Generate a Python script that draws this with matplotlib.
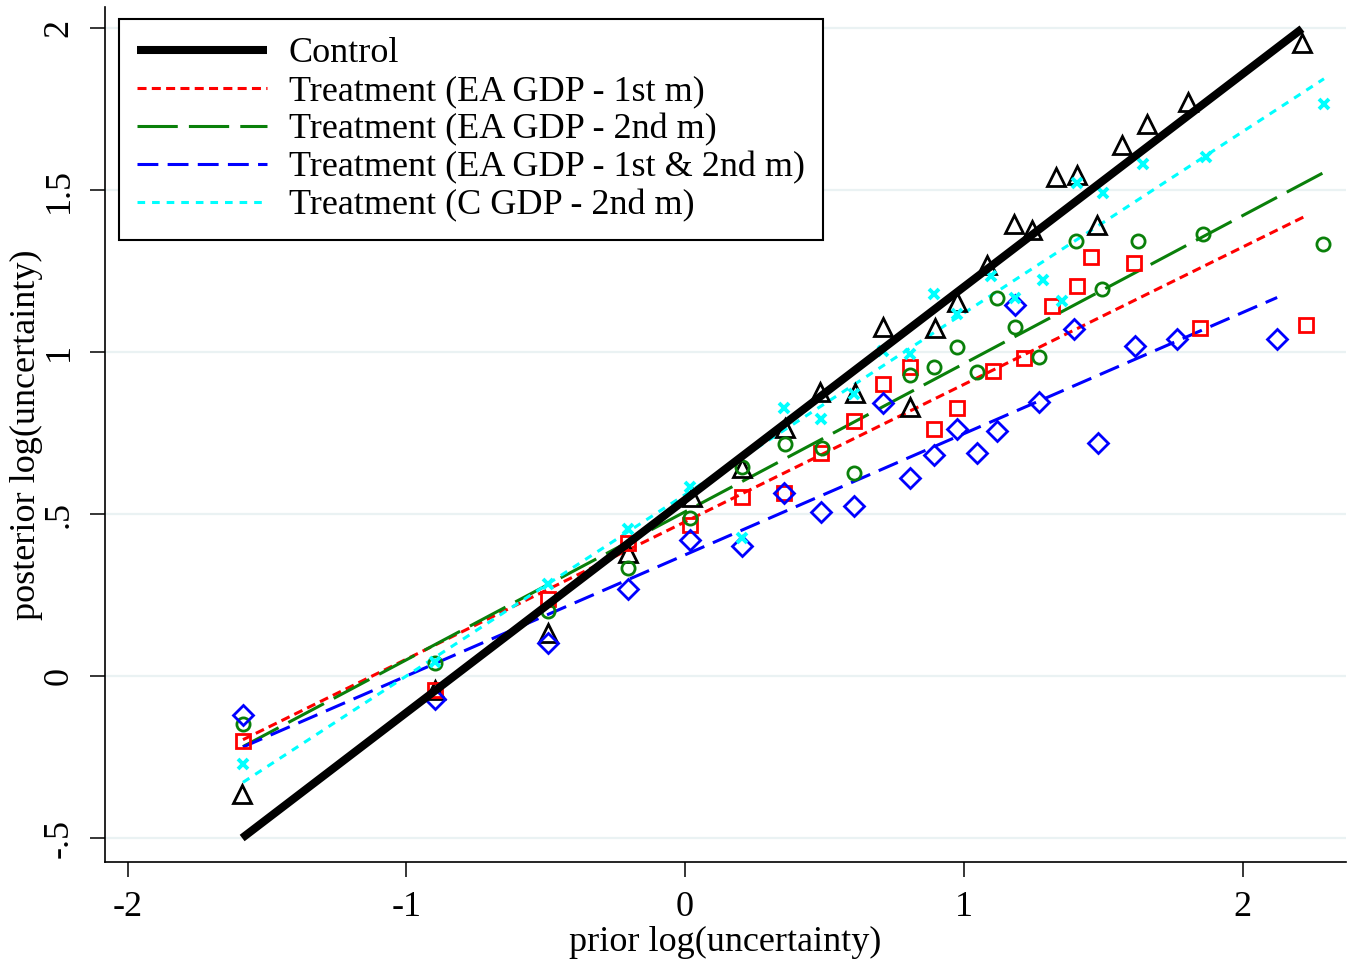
# binscatter: prior vs posterior log(uncertainty), control and treatments
import numpy as np
import matplotlib
matplotlib.use("Agg")
import matplotlib.pyplot as plt

plt.rcParams['font.family'] = ['Liberation Serif', 'DejaVu Serif']
plt.rcParams['lines.scale_dashes'] = False

# ---------------- datos ----------------
etiquetas = ["Control",
             "Treatment (EA GDP - 1st m)",
             "Treatment (EA GDP - 2nd m)",
             "Treatment (EA GDP - 1st & 2nd m)",
             "Treatment (C GDP - 2nd m)"]

x_control = [-1.589, -0.897, -0.491, -0.204, 0.025, 0.204, 0.359, 0.484, 0.610, 0.710, 0.807,
             0.897, 0.976, 1.083, 1.180, 1.245, 1.331, 1.406, 1.478, 1.568, 1.657, 1.804, 2.213]
y_control = [-0.364, -0.043, 0.133, 0.380, 0.552, 0.642, 0.765, 0.877, 0.873, 1.077, 0.830,
             1.074, 1.154, 1.269, 1.395, 1.377, 1.540, 1.546, 1.392, 1.639, 1.704, 1.772, 1.954]

x_ea1 = [-1.586, -0.897, -0.491, -0.204, 0.018, 0.204, 0.355, 0.488, 0.606, 0.710, 0.807,
         0.893, 0.976, 1.105, 1.216, 1.317, 1.406, 1.457, 1.611, 1.848, 2.228]
y_ea1 = [-0.201, -0.043, 0.238, 0.410, 0.466, 0.552, 0.565, 0.688, 0.787, 0.901, 0.954,
         0.762, 0.827, 0.941, 0.981, 1.142, 1.204, 1.293, 1.275, 1.074, 1.083]

x_ea2 = [-1.586, -0.897, -0.491, -0.204, 0.018, 0.204, 0.359, 0.491, 0.606, 0.807, 0.893,
         0.976, 1.048, 1.119, 1.184, 1.270, 1.403, 1.496, 1.625, 1.858, 2.289]
y_ea2 = [-0.148, 0.040, 0.201, 0.333, 0.488, 0.645, 0.716, 0.704, 0.627, 0.929, 0.954,
         1.015, 0.938, 1.167, 1.077, 0.985, 1.343, 1.194, 1.343, 1.364, 1.333]

x_ea12 = [-1.586, -0.897, -0.491, -0.204, 0.018, 0.204, 0.355, 0.488, 0.606, 0.710, 0.807,
          0.893, 0.976, 1.048, 1.119, 1.184, 1.270, 1.396, 1.482, 1.614, 1.765, 2.124]
y_ea12 = [-0.120, -0.071, 0.102, 0.269, 0.420, 0.401, 0.565, 0.506, 0.525, 0.843, 0.611,
          0.682, 0.762, 0.688, 0.756, 1.145, 0.846, 1.071, 0.719, 1.019, 1.040, 1.040]

x_cgdp = [-1.586, -0.897, -0.491, -0.204, 0.018, 0.204, 0.355, 0.488, 0.606, 0.710, 0.807,
          0.893, 0.976, 1.098, 1.184, 1.284, 1.352, 1.406, 1.500, 1.643, 1.869, 2.292]
y_cgdp = [-0.272, 0.043, 0.284, 0.454, 0.583, 0.426, 0.827, 0.793, 0.870, 1.003, 0.994,
          1.179, 1.117, 1.235, 1.167, 1.222, 1.157, 1.522, 1.491, 1.580, 1.602, 1.765]

# rectas ajustadas (pendiente, intercepto)
pendientes = [0.657, 0.424, 0.457, 0.374, 0.560]
interceptos = [0.544, 0.476, 0.507, 0.374, 0.560]

y_ticks = [-0.5, 0, 0.5, 1, 1.5, 2]
y_tick_labels = ["-.5", "0", ".5", "1", "1.5", "2"]
x_ticks = [-2, -1, 0, 1, 2]

# ---------------- estilos ----------------
colores = ["black", "#ff0000", "#0a800a", "#0000ff", "#00ffff"]
marcadores = ["^", "s", "o", "D", "x"]
tam_marcador = [12.5, 10, 9.5, 10, 7.5]
ancho_linea = [5.8, 2.2, 2.2, 2.2, 2.2]
guiones = [None, (0, (6.5, 3.8)), (0, (29, 8)), (0, (15, 6.7)), (0, (5.5, 5))]

series_x = [x_control, x_ea1, x_ea2, x_ea12, x_cgdp]
series_y = [y_control, y_ea1, y_ea2, y_ea12, y_cgdp]

tam_fuente = 26

fig = plt.figure(figsize=(13.49, 9.65), dpi=100)
ax = fig.add_axes([105 / 1349, 1 - 862 / 965, 1241 / 1349, 855 / 965])

# puntos
for xs, ys, c, m, ms in zip(series_x, series_y, colores, marcadores, tam_marcador):
    if m == "x":
        ax.plot(xs, ys, linestyle="none", marker=m, markersize=ms, color=c,
                markeredgewidth=2.8, zorder=4)
    else:
        ax.plot(xs, ys, linestyle="none", marker=m, markersize=ms, markerfacecolor="none",
                markeredgecolor=c, markeredgewidth=2.0, zorder=4)

# rectas
lineas = []
for i in range(len(series_x)):
    xs = np.array(series_x[i])
    xx = np.array([xs.min(), xs.max()])
    yy = interceptos[i] + pendientes[i] * xx
    ls = "-" if guiones[i] is None else guiones[i]
    ln, = ax.plot(xx, yy, color=colores[i], linewidth=ancho_linea[i], linestyle=ls,
                  solid_capstyle="butt", dash_capstyle="butt",
                  zorder=5 if i == 0 else 3, label=etiquetas[i])
    lineas.append(ln)

ax.set_xlim(-2.081, 2.371)
ax.set_ylim(-0.574, 2.065)

ax.set_xticks(x_ticks)
ax.set_xticklabels([str(t) for t in x_ticks])
ax.set_yticks(y_ticks)
ax.set_yticklabels(y_tick_labels, rotation=90, va="center")

for lab in ax.get_xticklabels() + ax.get_yticklabels():
    lab.set_fontsize(tam_fuente)

ax.tick_params(axis="both", direction="out", length=11, width=1.1, pad=10)
ax.grid(axis="y", color="#eaf2f3", linewidth=1.6)
ax.set_axisbelow(True)

ax.spines["top"].set_visible(False)
ax.spines["right"].set_visible(False)
for s in ["left", "bottom"]:
    ax.spines[s].set_linewidth(1.2)

ax.set_xlabel("prior log(uncertainty)", fontsize=tam_fuente, labelpad=1)
ax.set_ylabel("posterior log(uncertainty)", fontsize=tam_fuente, labelpad=0)

leg = ax.legend(handles=lineas, loc="upper left", bbox_to_anchor=(0.0113, 0.986),
                borderaxespad=0, fontsize=tam_fuente, handlelength=3.6, handletextpad=0.6,
                labelspacing=0.13, borderpad=0.5, fancybox=False, framealpha=1,
                edgecolor="black")
leg.get_frame().set_linewidth(1.5)

fig.savefig("out.png", dpi=100)
